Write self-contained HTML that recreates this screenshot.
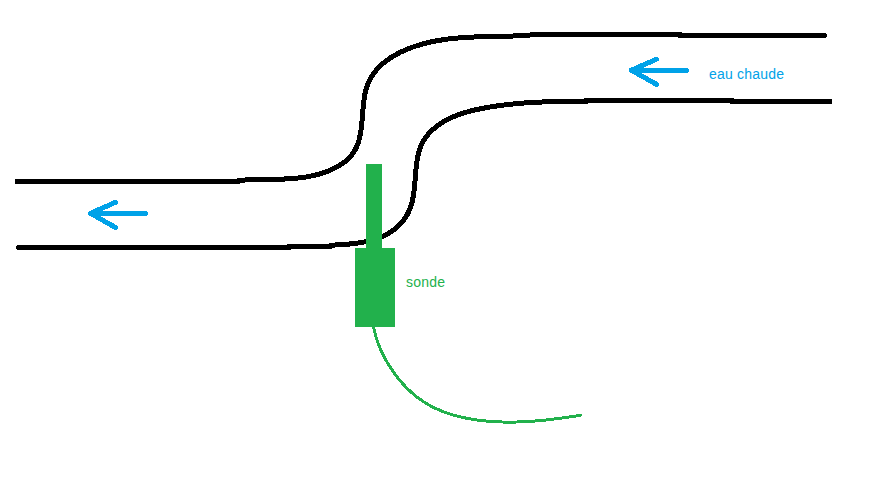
<!DOCTYPE html>
<html><head><meta charset="utf-8"><style>
html,body{margin:0;padding:0;background:#fff;}
body{width:878px;height:477px;overflow:hidden;position:relative;}
svg{position:absolute;left:0;top:0;}
.t{position:absolute;font-family:"Liberation Sans",sans-serif;font-size:14px;line-height:1;white-space:nowrap;}
</style></head><body>
<svg shape-rendering="crispEdges" width="878" height="477" viewBox="0 0 878 477">
<g fill="none" stroke="#000" stroke-width="5" stroke-linecap="round" stroke-linejoin="round">
<path d="M17.5,181.5 L238,181.5 L238.10,180.53 L238.98,180.45 L239.87,180.37 L240.76,180.30 L241.65,180.23 L242.55,180.17 L243.44,180.11 L244.35,180.05 L245.25,180.00 L246.16,179.95 L247.07,179.91 L247.98,179.87 L248.89,179.83 L249.81,179.79 L250.73,179.76 L251.65,179.73 L252.57,179.70 L253.50,179.67 L254.43,179.65 L255.36,179.62 L256.29,179.60 L257.22,179.58 L258.16,179.57 L259.10,179.55 L260.04,179.53 L260.98,179.52 L261.92,179.50 L262.86,179.49 L263.81,179.48 L264.75,179.47 L265.70,179.45 L266.65,179.44 L267.60,179.43 L268.55,179.42 L269.51,179.40 L270.46,179.39 L271.42,179.37 L272.37,179.36 L273.33,179.34 L274.29,179.32 L275.24,179.30 L276.20,179.28 L277.16,179.26 L278.12,179.23 L279.08,179.21 L280.04,179.18 L281.01,179.15 L281.97,179.11 L282.93,179.08 L283.89,179.04 L284.85,178.99 L285.81,178.95 L286.78,178.90 L287.74,178.85 L288.70,178.79 L289.66,178.73 L290.62,178.67 L291.58,178.60 L292.55,178.53 L293.51,178.45 L294.47,178.37 L295.42,178.28 L296.38,178.19 L297.34,178.09 L298.30,177.99 L299.25,177.89 L300.21,177.77 L301.16,177.66 L302.12,177.53 L303.07,177.40 L304.02,177.27 L304.97,177.12 L305.92,176.98 L306.87,176.82 L307.82,176.66 L308.76,176.49 L309.70,176.31 L310.65,176.13 L311.59,175.94 L312.52,175.74 L313.46,175.53 L314.40,175.32 L315.33,175.10 L316.26,174.87 L317.19,174.63 L318.12,174.38 L319.04,174.12 L319.96,173.86 L320.88,173.58 L321.80,173.30 L322.72,173.01 L323.63,172.71 L324.54,172.40 L325.45,172.07 L326.36,171.74 L327.26,171.40 L328.16,171.05 L329.05,170.69 L329.94,170.32 L330.82,169.94 L331.70,169.55 L332.57,169.15 L333.43,168.74 L334.29,168.31 L335.14,167.88 L335.98,167.44 L336.82,166.99 L337.64,166.52 L338.46,166.05 L339.27,165.56 L340.06,165.07 L340.85,164.56 L341.62,164.04 L342.39,163.51 L343.14,162.97 L343.88,162.42 L344.61,161.86 L345.33,161.29 L346.03,160.71 L346.72,160.11 L347.39,159.51 L348.05,158.89 L348.70,158.26 L349.33,157.62 L349.94,156.97 L350.54,156.30 L351.12,155.63 L351.69,154.94 L352.23,154.24 L352.76,153.53 L353.27,152.81 L353.76,152.07 L354.24,151.32 L354.69,150.56 L355.12,149.79 L355.54,149.01 L355.94,148.22 L356.32,147.42 L356.68,146.60 L357.03,145.78 L357.36,144.94 L357.68,144.10 L357.98,143.25 L358.27,142.39 L358.55,141.52 L358.81,140.64 L359.05,139.75 L359.29,138.86 L359.51,137.95 L359.72,137.04 L359.92,136.13 L360.11,135.20 L360.29,134.28 L360.47,133.34 L360.63,132.40 L360.78,131.45 L360.92,130.50 L361.06,129.54 L361.19,128.58 L361.31,127.62 L361.43,126.65 L361.54,125.68 L361.64,124.70 L361.75,123.72 L361.84,122.74 L361.93,121.75 L362.02,120.77 L362.11,119.78 L362.19,118.79 L362.27,117.80 L362.35,116.81 L362.43,115.81 L362.51,114.82 L362.59,113.82 L362.67,112.83 L362.75,111.84 L362.83,110.85 L362.91,109.85 L363.00,108.86 L363.09,107.88 L363.18,106.89 L363.27,105.91 L363.37,104.92 L363.48,103.95 L363.59,102.97 L363.70,102.00 L363.82,101.03 L363.95,100.07 L364.09,99.11 L364.23,98.15 L364.38,97.20 L364.54,96.25 L364.71,95.31 L364.88,94.38 L365.07,93.45 L365.27,92.53 L365.48,91.62 L365.70,90.71 L365.93,89.81 L366.18,88.91 L366.43,88.03 L366.70,87.15 L366.99,86.28 L367.29,85.42 L367.60,84.57 L367.93,83.73 L368.27,82.90 L368.63,82.07 L369.01,81.26 L369.39,80.45 L369.80,79.66 L370.21,78.87 L370.64,78.09 L371.09,77.33 L371.55,76.57 L372.02,75.82 L372.50,75.07 L373.00,74.34 L373.51,73.62 L374.03,72.90 L374.57,72.20 L375.12,71.50 L375.68,70.81 L376.25,70.13 L376.83,69.46 L377.43,68.79 L378.03,68.14 L378.65,67.49 L379.28,66.85 L379.92,66.22 L380.57,65.60 L381.23,64.99 L381.90,64.38 L382.58,63.78 L383.27,63.20 L383.97,62.61 L384.68,62.04 L385.39,61.48 L386.12,60.92 L386.86,60.37 L387.60,59.83 L388.35,59.30 L389.11,58.77 L389.88,58.25 L390.66,57.74 L391.44,57.24 L392.24,56.74 L393.04,56.26 L393.84,55.78 L394.66,55.30 L395.48,54.84 L396.30,54.38 L397.13,53.93 L397.97,53.49 L398.82,53.05 L399.67,52.62 L400.53,52.20 L401.39,51.79 L402.25,51.38 L403.13,50.98 L404.00,50.59 L404.88,50.20 L405.77,49.82 L406.66,49.45 L407.55,49.08 L408.45,48.72 L409.35,48.37 L410.26,48.03 L411.17,47.69 L412.08,47.35 L412.99,47.03 L413.91,46.71 L414.83,46.40 L415.75,46.09 L416.67,45.79 L417.60,45.50 L418.53,45.21 L419.46,44.93 L420.39,44.65 L421.32,44.39 L422.25,44.12 L423.18,43.87 L424.12,43.62 L425.05,43.37 L425.99,43.13 L426.92,42.90 L427.86,42.67 L428.79,42.45 L429.73,42.24 L430.66,42.03 L431.60,41.82 L432.53,41.62 L433.46,41.43 L434.40,41.24 L435.33,41.06 L436.27,40.88 L437.20,40.71 L438.14,40.54 L439.07,40.38 L440.00,40.22 L440.94,40.07 L441.87,39.92 L442.81,39.78 L443.74,39.64 L444.67,39.50 L445.61,39.37 L446.54,39.24 L447.48,39.12 L448.41,39.00 L449.35,38.89 L450.28,38.78 L451.21,38.67 L452.15,38.57 L453.08,38.47 L454.02,38.37 L454.95,38.28 L455.89,38.19 L456.82,38.10 L457.76,38.02 L458.69,37.94 L459.63,37.87 L460.56,37.79 L461.50,37.72 L462.43,37.65 L463.37,37.59 L464.30,37.53 L465.24,37.47 L466.17,37.41 L467.11,37.36 L468.04,37.31 L468.98,37.26 L469.91,37.21 L470.85,37.16 L471.79,37.12 L472.72,37.08 L473.66,37.04 L474.60,37.00 L475.53,36.96 L476.47,36.93 L477.41,36.90 L478.34,36.86 L479.28,36.83 L480.22,36.81 L481.15,36.78 L482.09,36.75 L483.03,36.73 L483.97,36.70 L484.91,36.68 L485.84,36.66 L486.78,36.63 L487.72,36.61 L488.66,36.59 L489.60,36.57 L490.54,36.55 L491.48,36.53 L492.42,36.51 L493.36,36.49 L494.30,36.48 L495.24,36.46 L496.18,36.44 L497.12,36.42 L498.06,36.40 L499.00,36.38 L499.94,36.36 L500.89,36.34 L501.83,36.32 L502.77,36.30 L503.71,36.27 L504.66,36.25 L505.60,36.22 L506.54,36.20 L507.49,36.17 L508.43,36.15 L509.37,36.12 L510.32,36.09 L511.26,36.06 L512.21,36.02 L513.15,35.99 L514.10,35.95 L515.04,35.92 L515.99,35.88 L516.94,35.83 L517.88,35.79 L518.83,35.75 L519.78,35.70 L520.73,35.65 L521.67,35.60 L522.62,35.54 L523.57,35.49 L524.52,35.43 L525.47,35.37 L526.42,35.30 L527.37,35.23 L528.32,35.16 L529.27,35.09 L530.22,35.02 L531.17,34.94 L532.12,34.85 L533.08,34.77 L534.03,34.68 L680,34.5 L680,35.5 L824.5,35.5"/>
<path d="M18.5,247.5 L289,247.5 L289,246.5 L331,246.5 L331.05,245.16 L331.81,245.13 L332.58,245.10 L333.36,245.06 L334.14,245.03 L334.93,244.99 L335.72,244.96 L336.52,244.92 L337.33,244.88 L338.14,244.83 L338.96,244.79 L339.79,244.74 L340.61,244.69 L341.45,244.64 L342.29,244.59 L343.13,244.53 L343.98,244.47 L344.83,244.41 L345.68,244.34 L346.54,244.27 L347.40,244.20 L348.26,244.12 L349.13,244.04 L349.99,243.96 L350.86,243.87 L351.74,243.78 L352.61,243.68 L353.48,243.58 L354.36,243.47 L355.24,243.36 L356.12,243.24 L356.99,243.12 L357.87,243.00 L358.75,242.86 L359.63,242.73 L360.51,242.59 L361.38,242.44 L362.26,242.28 L363.13,242.12 L364.01,241.96 L364.88,241.78 L365.75,241.60 L366.62,241.42 L367.48,241.22 L368.34,241.03 L369.20,240.82 L370.06,240.61 L370.91,240.38 L371.76,240.16 L372.60,239.92 L373.44,239.68 L374.28,239.42 L375.11,239.16 L375.94,238.90 L376.76,238.62 L377.58,238.34 L378.39,238.04 L379.19,237.74 L379.99,237.43 L380.78,237.11 L381.57,236.78 L382.35,236.44 L383.12,236.10 L383.88,235.74 L384.64,235.37 L385.39,235.00 L386.13,234.61 L386.87,234.22 L387.59,233.82 L388.31,233.40 L389.02,232.98 L389.73,232.55 L390.42,232.11 L391.11,231.66 L391.79,231.20 L392.46,230.74 L393.12,230.26 L393.77,229.78 L394.41,229.28 L395.05,228.78 L395.67,228.27 L396.29,227.75 L396.90,227.22 L397.49,226.69 L398.08,226.14 L398.66,225.59 L399.23,225.03 L399.79,224.46 L400.34,223.88 L400.88,223.30 L401.41,222.70 L401.93,222.10 L402.44,221.49 L402.94,220.87 L403.43,220.25 L403.91,219.61 L404.38,218.97 L404.83,218.32 L405.28,217.67 L405.72,217.00 L406.14,216.33 L406.55,215.65 L406.96,214.97 L407.35,214.27 L407.73,213.57 L408.09,212.86 L408.45,212.15 L408.79,211.42 L409.13,210.69 L409.45,209.96 L409.76,209.21 L410.05,208.46 L410.34,207.70 L410.61,206.94 L410.87,206.17 L411.12,205.39 L411.36,204.61 L411.59,203.82 L411.81,203.02 L412.02,202.22 L412.22,201.41 L412.41,200.60 L412.59,199.79 L412.76,198.96 L412.93,198.14 L413.09,197.31 L413.24,196.47 L413.38,195.63 L413.51,194.79 L413.64,193.95 L413.77,193.10 L413.88,192.24 L414.00,191.39 L414.10,190.53 L414.20,189.67 L414.30,188.80 L414.39,187.94 L414.48,187.07 L414.57,186.20 L414.65,185.33 L414.73,184.45 L414.81,183.58 L414.88,182.70 L414.96,181.82 L415.03,180.94 L415.10,180.07 L415.17,179.19 L415.24,178.31 L415.31,177.43 L415.38,176.55 L415.44,175.67 L415.52,174.79 L415.59,173.91 L415.66,173.03 L415.73,172.16 L415.81,171.28 L415.89,170.41 L415.97,169.54 L416.06,168.67 L416.14,167.80 L416.24,166.94 L416.33,166.07 L416.43,165.21 L416.54,164.35 L416.65,163.50 L416.77,162.65 L416.89,161.80 L417.01,160.95 L417.15,160.11 L417.29,159.28 L417.44,158.44 L417.59,157.61 L417.76,156.79 L417.93,155.97 L418.11,155.16 L418.29,154.35 L418.49,153.54 L418.70,152.74 L418.91,151.95 L419.14,151.16 L419.38,150.38 L419.62,149.61 L419.88,148.84 L420.15,148.07 L420.43,147.32 L420.73,146.57 L421.03,145.83 L421.35,145.09 L421.68,144.37 L422.03,143.65 L422.39,142.94 L422.76,142.23 L423.14,141.54 L423.54,140.85 L423.95,140.17 L424.37,139.50 L424.80,138.83 L425.25,138.17 L425.71,137.52 L426.17,136.88 L426.65,136.24 L427.15,135.62 L427.65,135.00 L428.16,134.39 L428.69,133.78 L429.22,133.18 L429.77,132.59 L430.32,132.01 L430.89,131.44 L431.46,130.87 L432.04,130.31 L432.64,129.76 L433.24,129.21 L433.85,128.67 L434.47,128.14 L435.10,127.62 L435.74,127.11 L436.38,126.60 L437.04,126.10 L437.70,125.60 L438.37,125.12 L439.04,124.64 L439.73,124.16 L440.42,123.70 L441.12,123.24 L441.82,122.79 L442.53,122.35 L443.25,121.91 L443.97,121.48 L444.70,121.06 L445.44,120.65 L446.18,120.24 L446.93,119.84 L447.68,119.45 L448.43,119.06 L449.19,118.68 L449.96,118.31 L450.73,117.94 L451.51,117.59 L452.29,117.23 L453.07,116.89 L453.85,116.55 L454.64,116.22 L455.44,115.90 L456.23,115.58 L457.03,115.27 L457.84,114.97 L458.64,114.67 L459.45,114.38 L460.26,114.10 L461.08,113.82 L461.89,113.55 L462.71,113.28 L463.53,113.02 L464.36,112.76 L465.18,112.51 L466.01,112.27 L466.84,112.03 L467.67,111.80 L468.50,111.57 L469.34,111.34 L470.17,111.12 L471.01,110.91 L471.85,110.70 L472.69,110.49 L473.53,110.29 L474.37,110.09 L475.22,109.90 L476.06,109.71 L476.90,109.52 L477.75,109.34 L478.59,109.16 L479.44,108.99 L480.28,108.82 L481.13,108.65 L481.97,108.48 L482.82,108.32 L483.66,108.16 L484.51,108.00 L485.35,107.85 L486.20,107.70 L487.04,107.55 L487.88,107.40 L488.73,107.26 L489.57,107.11 L490.41,106.97 L491.25,106.84 L492.09,106.70 L492.93,106.57 L493.77,106.44 L494.61,106.31 L495.45,106.18 L496.29,106.06 L497.12,105.93 L497.96,105.81 L498.80,105.70 L499.63,105.58 L500.47,105.47 L501.30,105.35 L502.14,105.24 L502.97,105.14 L503.81,105.03 L504.64,104.93 L505.48,104.82 L506.31,104.72 L507.14,104.63 L507.97,104.53 L508.81,104.44 L509.64,104.34 L510.47,104.25 L511.30,104.16 L512.13,104.08 L512.97,103.99 L513.80,103.91 L514.63,103.83 L515.46,103.75 L516.29,103.67 L517.12,103.59 L517.95,103.52 L518.78,103.45 L519.61,103.37 L520.44,103.31 L521.27,103.24 L522.10,103.17 L522.93,103.11 L523.76,103.04 L524.59,102.98 L525.42,102.92 L526.25,102.86 L527.08,102.81 L527.91,102.75 L528.74,102.70 L529.58,102.64 L530.41,102.59 L531.24,102.54 L532.07,102.49 L532.90,102.45 L533.73,102.40 L534.56,102.35 L535.39,102.31 L536.22,102.27 L537.05,102.23 L537.89,102.19 L538.72,102.15 L539.55,102.11 L540.38,102.08 L541.21,102.04 L542.05,102.01 L542.88,101.98 L543.71,101.95 L544.55,101.92 L545.38,101.89 L546.22,101.86 L547.05,101.83 L547.89,101.81 L548.72,101.78 L549.56,101.76 L550.39,101.74 L551.23,101.72 L552.07,101.69 L552.90,101.67 L553.74,101.66 L554.58,101.64 L555.42,101.62 L556.26,101.60 L557.10,101.59 L557.94,101.57 L558.78,101.56 L559.62,101.55 L560.46,101.53 L561.31,101.52 L562.15,101.51 L562.99,101.50 L563.84,101.49 L564.68,101.48 L565.53,101.47 L566.37,101.47 L567.22,101.46 L568.07,101.45 L568.92,101.45 L569.77,101.44 L570.61,101.44 L571.47,101.43 L572.32,101.43 L573.17,101.43 L574.02,101.43 L574.87,101.42 L575.73,101.42 L576.58,101.42 L577.44,101.42 L578.29,101.42 L579.15,101.42 L580.01,101.42 L580.87,101.42 L581.73,101.42 L582.59,101.42 L583.45,101.42 L584.31,101.42 L585.18,101.43 L586.04,101.43 L586,100.5 L732,100.5 L732,101.5 L829.5,101.5"/>
</g>
<rect x="15" y="179" width="3" height="5" fill="#000"/>
<rect x="829" y="99" width="3" height="5" fill="#000"/>
<g fill="none" stroke="#00a2e8" stroke-width="5" stroke-linecap="round" stroke-linejoin="round">
<path d="M145.5,213.4 L90.5,213.3 M115.5,202.3 L90.5,213.3 L115.5,227.5"/>
<path d="M686.5,70.5 L631.4,70.3 M656.6,59.1 L631.4,70.3 L656.6,84.4"/>
</g>
<rect x="366" y="164" width="16" height="84" fill="#22b14c"/>
<rect x="355" y="248" width="40" height="79" fill="#22b14c"/>
<path d="M373.59,326.52 L373.70,327.16 L373.81,327.79 L373.93,328.42 L374.05,329.05 L374.18,329.67 L374.31,330.30 L374.45,330.92 L374.59,331.54 L374.73,332.16 L374.88,332.78 L375.03,333.40 L375.19,334.01 L375.35,334.62 L375.51,335.23 L375.68,335.84 L375.86,336.45 L376.03,337.06 L376.21,337.66 L376.40,338.27 L376.59,338.87 L376.78,339.47 L376.98,340.07 L377.18,340.66 L377.38,341.26 L377.59,341.85 L377.80,342.45 L378.02,343.04 L378.24,343.63 L378.46,344.21 L378.68,344.80 L378.91,345.39 L379.15,345.97 L379.38,346.55 L379.62,347.14 L379.87,347.72 L380.11,348.29 L380.36,348.87 L380.62,349.45 L380.87,350.02 L381.13,350.60 L381.40,351.17 L381.66,351.74 L381.93,352.31 L382.21,352.88 L382.48,353.45 L382.76,354.02 L383.04,354.58 L383.33,355.15 L383.61,355.71 L383.90,356.27 L384.20,356.83 L384.49,357.39 L384.79,357.95 L385.09,358.51 L385.40,359.07 L385.70,359.63 L386.01,360.18 L386.33,360.73 L386.64,361.29 L386.96,361.84 L387.28,362.39 L387.60,362.94 L387.93,363.49 L388.26,364.03 L388.59,364.58 L388.92,365.12 L389.26,365.67 L389.60,366.21 L389.94,366.75 L390.28,367.29 L390.63,367.82 L390.98,368.36 L391.33,368.89 L391.69,369.43 L392.04,369.96 L392.40,370.49 L392.77,371.01 L393.13,371.54 L393.50,372.06 L393.87,372.59 L394.24,373.11 L394.62,373.63 L395.00,374.14 L395.38,374.66 L395.76,375.17 L396.15,375.68 L396.54,376.19 L396.93,376.70 L397.32,377.21 L397.72,377.71 L398.11,378.21 L398.51,378.71 L398.92,379.21 L399.32,379.70 L399.73,380.20 L400.14,380.69 L400.56,381.18 L400.97,381.66 L401.39,382.15 L401.81,382.63 L402.23,383.11 L402.66,383.59 L403.09,384.06 L403.52,384.53 L403.95,385.00 L404.39,385.47 L404.82,385.94 L405.26,386.40 L405.71,386.86 L406.15,387.31 L406.60,387.77 L407.05,388.22 L407.50,388.67 L407.95,389.12 L408.41,389.56 L408.87,390.00 L409.33,390.44 L409.79,390.87 L410.26,391.31 L410.73,391.74 L411.20,392.16 L411.67,392.59 L412.15,393.01 L412.63,393.42 L413.11,393.84 L413.59,394.25 L414.07,394.66 L414.56,395.06 L415.05,395.47 L415.54,395.87 L416.03,396.26 L416.53,396.65 L417.03,397.04 L417.53,397.43 L418.03,397.81 L418.53,398.19 L419.04,398.57 L419.55,398.94 L420.06,399.31 L420.58,399.67 L421.09,400.04 L421.61,400.40 L422.13,400.75 L422.65,401.10 L423.18,401.45 L423.70,401.79 L424.23,402.13 L424.76,402.47 L425.30,402.80 L425.83,403.13 L426.37,403.46 L426.91,403.78 L427.45,404.10 L427.99,404.42 L428.54,404.73 L429.09,405.04 L429.64,405.34 L430.19,405.65 L430.74,405.94 L431.30,406.24 L431.85,406.53 L432.41,406.82 L432.97,407.10 L433.53,407.39 L434.10,407.66 L434.66,407.94 L435.23,408.21 L435.80,408.48 L436.37,408.74 L436.94,409.01 L437.52,409.26 L438.09,409.52 L438.67,409.77 L439.25,410.02 L439.83,410.27 L440.41,410.51 L441.00,410.75 L441.58,410.99 L442.17,411.22 L442.76,411.45 L443.34,411.68 L443.94,411.90 L444.53,412.12 L445.12,412.34 L445.72,412.56 L446.31,412.77 L446.91,412.98 L447.51,413.19 L448.11,413.39 L448.71,413.59 L449.31,413.79 L449.91,413.99 L450.52,414.18 L451.12,414.37 L451.73,414.55 L452.34,414.74 L452.95,414.92 L453.56,415.10 L454.17,415.27 L454.78,415.45 L455.39,415.62 L456.01,415.79 L456.62,415.95 L457.24,416.11 L457.86,416.27 L458.47,416.43 L459.09,416.59 L459.71,416.74 L460.33,416.89 L460.95,417.03 L461.57,417.18 L462.20,417.32 L462.82,417.46 L463.44,417.60 L464.07,417.73 L464.69,417.86 L465.32,417.99 L465.95,418.12 L466.57,418.25 L467.20,418.37 L467.83,418.49 L468.46,418.61 L469.09,418.72 L469.72,418.84 L470.35,418.95 L470.98,419.06 L471.61,419.17 L472.24,419.27 L472.87,419.37 L473.50,419.47 L474.14,419.57 L474.77,419.67 L475.40,419.76 L476.04,419.85 L476.67,419.94 L477.30,420.03 L477.94,420.12 L478.57,420.20 L479.21,420.28 L479.84,420.36 L480.48,420.44 L481.11,420.51 L481.75,420.59 L482.38,420.66 L483.02,420.73 L483.65,420.80 L484.28,420.86 L484.92,420.93 L485.55,420.99 L486.19,421.05 L486.82,421.11 L487.46,421.17 L488.09,421.22 L488.73,421.27 L489.36,421.33 L490.00,421.38 L490.63,421.42 L491.27,421.47 L491.90,421.51 L492.53,421.56 L493.17,421.60 L493.80,421.64 L494.44,421.68 L495.07,421.71 L495.70,421.75 L496.34,421.78 L496.97,421.81 L497.61,421.84 L498.24,421.87 L498.87,421.89 L499.51,421.92 L500.14,421.94 L500.78,421.96 L501.41,421.98 L502.04,422.00 L502.68,422.01 L503.31,422.03 L503.94,422.04 L504.58,422.06 L505.21,422.07 L505.84,422.07 L506.48,422.08 L507.11,422.09 L507.74,422.09 L508.38,422.09 L509.01,422.10 L509.64,422.10 L510.27,422.09 L510.91,422.09 L511.54,422.09 L512.17,422.08 L512.81,422.07 L513.44,422.07 L514.07,422.06 L514.70,422.04 L515.34,422.03 L515.97,422.02 L516.60,422.00 L517.23,421.98 L517.87,421.97 L518.50,421.95 L519.13,421.93 L519.76,421.90 L520.40,421.88 L521.03,421.86 L521.66,421.83 L522.29,421.80 L522.93,421.78 L523.56,421.75 L524.19,421.72 L524.82,421.68 L525.45,421.65 L526.09,421.62 L526.72,421.58 L527.35,421.54 L527.98,421.51 L528.61,421.47 L529.24,421.43 L529.88,421.38 L530.51,421.34 L531.14,421.30 L531.77,421.25 L532.40,421.21 L533.03,421.16 L533.67,421.11 L534.30,421.06 L534.93,421.01 L535.56,420.96 L536.19,420.91 L536.82,420.86 L537.45,420.80 L538.08,420.75 L538.72,420.69 L539.35,420.63 L539.98,420.58 L540.61,420.52 L541.24,420.46 L541.87,420.40 L542.50,420.33 L543.13,420.27 L543.76,420.21 L544.39,420.14 L545.03,420.08 L545.66,420.01 L546.29,419.94 L546.92,419.88 L547.55,419.81 L548.18,419.74 L548.81,419.67 L549.44,419.59 L550.07,419.52 L550.70,419.45 L551.33,419.37 L551.96,419.30 L552.59,419.22 L553.22,419.15 L553.85,419.07 L554.48,418.99 L555.11,418.91 L555.74,418.84 L556.37,418.76 L557.00,418.68 L557.63,418.59 L558.26,418.51 L558.89,418.43 L559.52,418.35 L560.15,418.26 L560.78,418.18 L561.41,418.09 L562.04,418.01 L562.67,417.92 L563.30,417.83 L563.93,417.75 L564.56,417.66 L565.19,417.57 L565.82,417.48 L566.45,417.39 L567.08,417.30 L567.71,417.21 L568.34,417.12 L568.97,417.02 L569.60,416.93 L570.23,416.84 L570.86,416.74 L571.49,416.65 L572.12,416.56 L572.75,416.46 L573.38,416.37 L574.01,416.27 L574.64,416.17 L575.27,416.08 L575.90,415.98 L576.52,415.88 L577.15,415.79 L577.78,415.69 L578.41,415.59 L579.04,415.49 L579.67,415.39 L580.30,415.29" fill="none" stroke="#22b14c" stroke-width="3" stroke-linecap="round"/>
</svg>
<div class="t" style="left:709px;top:67px;color:#00a2e8;letter-spacing:0.2px;">eau chaude</div>
<div class="t" style="left:406px;top:275px;color:#22b14c;letter-spacing:0.25px;">sonde</div>
</body></html>
